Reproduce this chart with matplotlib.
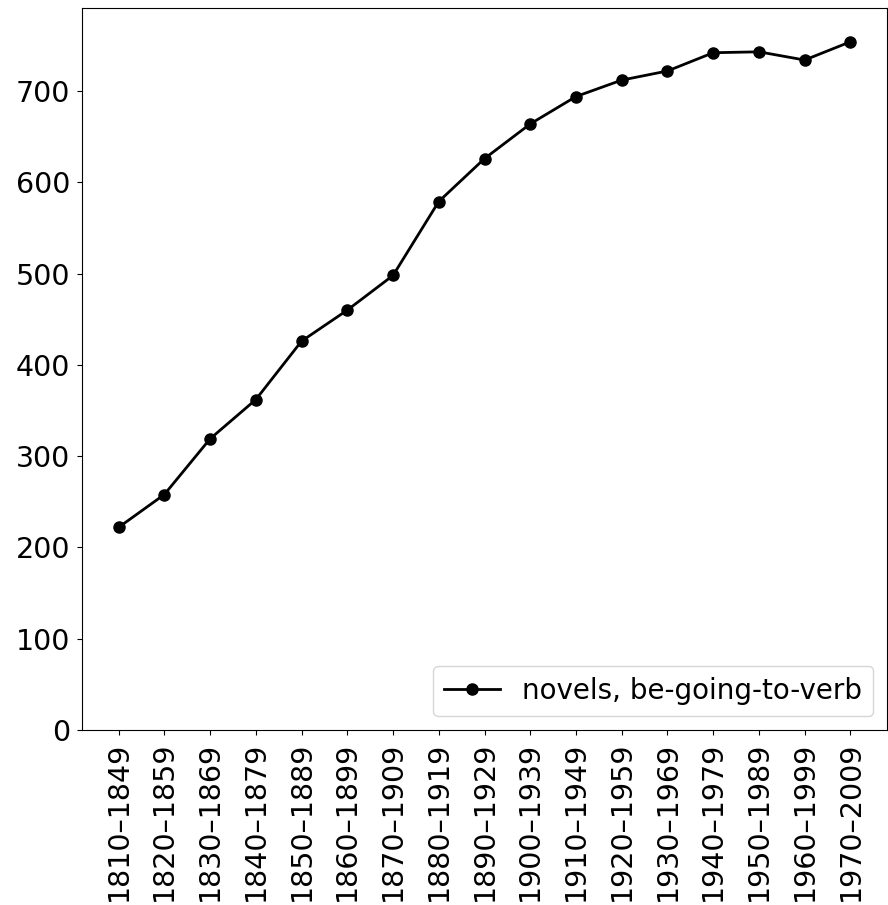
import matplotlib
matplotlib.use("Agg")
import matplotlib.pyplot as plt

periods = ["1810–1849", "1820–1859", "1830–1869", "1840–1879", "1850–1889",
           "1860–1899", "1870–1909", "1880–1919", "1890–1929", "1900–1939",
           "1910–1949", "1920–1959", "1930–1969", "1940–1979", "1950–1989",
           "1960–1999", "1970–2009"]
values = [222, 258, 319, 362, 426, 460, 498, 579, 626, 664,
          694, 712, 722, 742, 743, 734, 754]
series_label = "novels, be-going-to-verb"

fig = plt.figure(figsize=(8.88, 9.05), dpi=100)
ax = fig.add_axes([82/888, 1 - 730/905, (887-82)/888, (730-8)/905])
x = list(range(len(periods)))
ax.plot(x, values, color="black", marker="o", markersize=8, linewidth=2,
        label=series_label)
ax.set_xticks(x)
ax.set_xticklabels(periods, rotation=90)
ax.set_ylim(0, 791)
ax.set_yticks([0, 100, 200, 300, 400, 500, 600, 700])
ax.tick_params(labelsize=20.5, pad=5)
ax.legend(loc="lower right", fontsize=20, borderaxespad=0.5)
fig.savefig("out.png", dpi=100)
